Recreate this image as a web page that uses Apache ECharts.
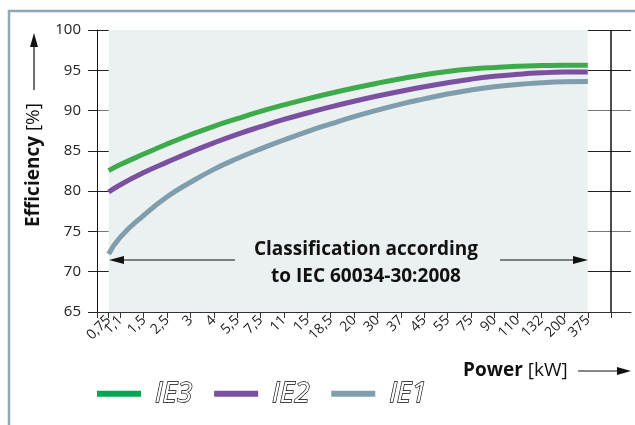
<!DOCTYPE html>
<html lang="en">
<head>
<meta charset="UTF-8">
<title>Efficiency classes IE1 / IE2 / IE3</title>
<script src="https://cdn.jsdelivr.net/npm/echarts@6/dist/echarts.min.js"></script>
<style>
    html, body { margin: 0; padding: 0; background: #fff; }
    #chart { width: 635px; height: 425px; }
</style>
</head>
<body>
<div id="chart"></div>
<script>
// power ratings [kW] shown on the x axis
var powerLabels = ['0,75', '1,1', '1,5', '2,5', '3', '4', '5,5', '7,5', '11', '15', '18,5', '20',
    '30', '37', '45', '55', '75', '90', '110', '132', '200', '375'];
// efficiency [%] per rating
var ie3 = [82.55, 83.3, 84.6, 85.85, 87.0, 88.05, 89.0, 89.9, 90.7, 91.45, 92.15, 92.8,
    93.4, 93.95, 94.45, 94.85, 95.15, 95.35, 95.5, 95.58, 95.62, 95.62];
var ie2 = [79.9, 80.8, 82.3, 83.6, 84.85, 86.0, 87.05, 88.0, 88.9, 89.7, 90.45, 91.15,
    91.8, 92.4, 92.95, 93.45, 93.9, 94.25, 94.5, 94.68, 94.78, 94.8];
var ie1 = [72.2, 74.3, 77.0, 79.3, 81.1, 82.7, 84.05, 85.25, 86.35, 87.4, 88.35, 89.25,
    90.05, 90.8, 91.45, 92.05, 92.55, 92.95, 93.25, 93.45, 93.57, 93.6];
var yMin = 65, yMax = 100, yStep = 5;

// x axis runs in half steps: 0,75 sits half a step before 1,1
var xPos = powerLabels.map(function (l, i) { return i === 0 ? 1 : 2 * i; });
var xEnd = 2 * powerLabels.length;          // the closing vertical line
var labelAt = {};
xPos.forEach(function (p, i) { labelAt[p] = powerLabels[i]; });

function pairs(vals) {
    return vals.map(function (v, i) { return [xPos[i], v]; });
}

var chart = echarts.init(document.getElementById('chart'));
var shade = '#ebf0f0';
var font = 'Open Sans';

function curve(name, vals, color) {
    return {
        name: name, type: 'line', data: pairs(vals),
        smooth: true, symbol: 'none',
        lineStyle: { color: color, width: 5 }, itemStyle: { color: color }
    };
}

var option = {
    animation: false,
    grid: { left: 97, right: 4, top: 30, bottom: 113 },
    xAxis: {
        type: 'value',
        min: 0,
        max: 45.7,
        axisLine: { lineStyle: { color: '#333', width: 1 } },
        axisTick: { customValues: [0].concat(xPos, [xEnd]), length: 6, lineStyle: { color: '#333' } },
        axisLabel: {
            // a blank label at 0 keeps ECharts from dropping 0,75 or 1,1 as overlapping
            customValues: [0].concat(xPos),
            hideOverlap: false,
            rotate: 45,
            margin: 6,
            fontFamily: font,
            fontSize: 14,
            color: '#222',
            formatter: function (v) { return labelAt[v] || ''; }
        },
        splitLine: { show: false }
    },
    yAxis: {
        type: 'value',
        min: yMin,
        max: yMax,
        interval: yStep,
        axisLine: { show: true, lineStyle: { color: '#111', width: 1 } },
        axisTick: { show: true, length: 9, lineStyle: { color: '#222' } },
        axisLabel: { margin: 16, fontFamily: font, fontSize: 15, color: '#222' },
        splitLine: { lineStyle: { color: ['#222', '#222', '#777'], width: 1 } }
    },
    legend: {
        left: 97,
        top: 379,
        padding: 0,
        icon: 'rect',
        itemWidth: 44,
        itemHeight: 6,
        itemGap: 21,
        data: [
            { name: 'IE3', itemStyle: { color: '#00a651' } },
            { name: 'IE2', itemStyle: { color: '#7d4f9f' } },
            { name: 'IE1', itemStyle: { color: '#809eac' } }
        ],
        textStyle: {
            fontFamily: font,
            fontStyle: 'italic',
            fontSize: 28,
            color: '#fff',
            textBorderColor: '#000',
            textBorderWidth: 1.3,
            padding: [0, 0, 0, 9]
        }
    },
    series: [
        {
            // shaded classification band, kept under the grid lines
            name: 'band',
            type: 'line',
            z: -1,
            silent: true,
            data: [],
            markArea: {
                silent: true,
                itemStyle: { color: shade },
                data: [[{ xAxis: xPos[0] }, { xAxis: xPos[xPos.length - 1] }]]
            }
        },
        curve('IE3', ie3, '#3dab4b'),
        curve('IE2', ie2, '#7b50a0'),
        Object.assign(curve('IE1', ie1, '#7f9dac'), {
            markLine: {
                silent: true,
                symbol: 'none',
                label: { show: false },
                lineStyle: { color: '#111', type: 'solid', width: 1.5 },
                data: [{ xAxis: xEnd }]
            }
        })
    ],
    graphic: [
        // outer frame
        {
            type: 'rect', z: 0, silent: true,
            shape: { x: 9, y: 11, width: 640, height: 430 },
            style: { fill: 'none', stroke: '#8fa8b5', lineWidth: 2.5 }
        },
        // y axis title with arrow
        {
            type: 'text', z: 10, x: 34, y: 165, rotation: Math.PI / 2,
            style: {
                text: '{b|Efficiency} [%]',
                align: 'center', verticalAlign: 'middle',
                font: '19px ' + font, fill: '#111',
                rich: { b: { fontWeight: 'bold', fontSize: 19, fontFamily: font } }
            }
        },
        { type: 'line', z: 10, shape: { x1: 34, y1: 90, x2: 34, y2: 45 }, style: { stroke: '#111', lineWidth: 1.2 } },
        { type: 'polygon', z: 10, shape: { points: [[34, 33], [30, 47], [38, 47]] }, style: { fill: '#111' } },
        // x axis title with arrow
        {
            type: 'text', z: 10, x: 463, y: 371,
            style: {
                text: '{b|Power} [kW]',
                align: 'left', verticalAlign: 'middle',
                font: '19px ' + font, fill: '#111',
                rich: { b: { fontWeight: 'bold', fontSize: 19, fontFamily: font } }
            }
        },
        { type: 'line', z: 10, shape: { x1: 578, y1: 371, x2: 620, y2: 371 }, style: { stroke: '#111', lineWidth: 1.2 } },
        { type: 'polygon', z: 10, shape: { points: [[631, 371], [617, 367], [617, 375]] }, style: { fill: '#111' } },
        // classification note inside the plot
        {
            type: 'rect', z: 10, silent: true,
            shape: { x: 236, y: 237, width: 263, height: 50 },
            style: { fill: shade }
        },
        {
            type: 'text', z: 11, x: 366, y: 263,
            style: {
                text: 'Classification according\nto IEC 60034-30:2008',
                align: 'center', verticalAlign: 'middle',
                font: 'bold 19px ' + font, fill: '#111', lineHeight: 27
            }
        },
        { type: 'line', z: 11, shape: { x1: 235, y1: 260, x2: 121, y2: 260 }, style: { stroke: '#111', lineWidth: 1.2 } },
        { type: 'polygon', z: 11, shape: { points: [[109, 260], [124, 256], [124, 264]] }, style: { fill: '#111' } },
        { type: 'line', z: 11, shape: { x1: 500, y1: 260, x2: 576, y2: 260 }, style: { stroke: '#111', lineWidth: 1.2 } },
        { type: 'polygon', z: 11, shape: { points: [[588, 260], [573, 256], [573, 264]] }, style: { fill: '#111' } }
    ]
};

chart.setOption(option);
</script>
</body>
</html>
